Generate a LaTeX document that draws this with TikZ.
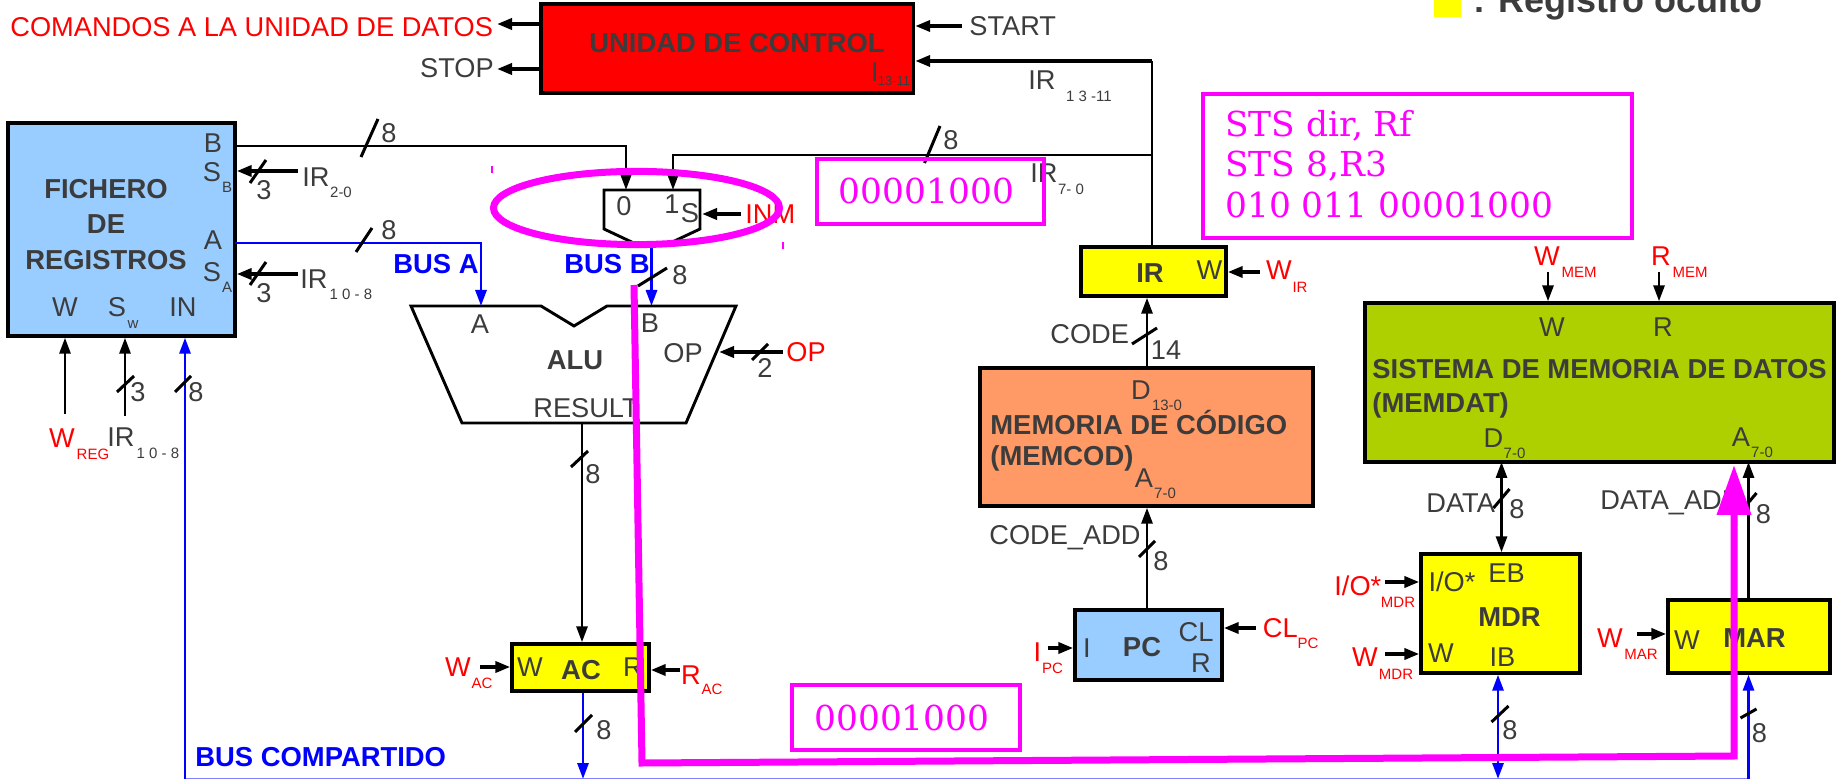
\documentclass[tikz,border=0pt]{standalone}
\usepackage{fontspec}
\setmainfont{Liberation Sans}
\newfontfamily\dvserif{DejaVu Serif}
\usetikzlibrary{arrows.meta,fit}
\definecolor{dk}{HTML}{3C3C3C}
\definecolor{mag}{HTML}{FF00FF}
\definecolor{blu}{HTML}{0000FF}
\definecolor{lblu}{HTML}{99CCFF}
\definecolor{org}{HTML}{FF9966}
\definecolor{oli}{HTML}{AECF00}
\definecolor{busl}{HTML}{8080FF}
\definecolor{yel}{rgb}{1,1,0}
\definecolor{rd}{rgb}{1,0,0}
\tikzset{
  txt/.style={inner sep=0pt,text=dk,font=\fontsize{13.6pt}{15pt}\selectfont},
  red/.style={text=rd},
  subt/.style={font=\fontsize{7.5pt}{8pt}\selectfont},
  bld/.style={font=\fontsize{13.7pt}{15pt}\selectfont\bfseries},
  wst/.style={anchor=west},
  regbox/.style={draw=black,line width=1.7pt,inner sep=0pt},
  wire/.style={draw=black,line width=1.45pt},
  arr/.style={wire,-{Triangle[length=8pt,width=5.5pt]}},
  thk/.style={draw=black,line width=1.8pt,-{Triangle[length=7.5pt,width=5.5pt]}},
  barr/.style={draw=blu,line width=1.45pt,-{Triangle[length=8pt,width=5.5pt]}},
  slashm/.style={draw=black,line width=1.5pt},
  mbox/.style={draw=mag,line width=1.7pt,inner sep=0pt},
  mtxt/.style={inner sep=0pt,text=mag,font=\fontsize{17.2pt}{20pt}\dvserif},
  mline/.style={draw=mag,line width=3.5pt},
}
\newcount\lbc
\newcommand\lb[4][]{\global\advance\lbc by 1 \node[txt,#1,name=lab\the\lbc] at (#2,#3) {#4};}
\newcommand\slashmk[4]{\draw[slashm] (#1,#2) -- (#3,#4);}
\begin{document}
\begin{tikzpicture}[x=0.5pt,y=-0.5pt]
\useasboundingbox (0,0) rectangle (1840,779);
\clip (0,0) rectangle (1840,779);
% boxes
\node[regbox,fill=rd,fit={(541,4)(913.5,93)}] (ctrl) {};
\node[regbox,fill=lblu,fit={(8,123)(235,336)}] (fich) {};
\node[regbox,fill=yel,fit={(512,644)(649,691)}] (ac) {};
\node[regbox,fill=yel,fit={(1081,247)(1226,296)}] (ir) {};
\node[regbox,fill=org,fit={(980,368)(1313,506)}] (mcod) {};
\node[regbox,fill=oli,fit={(1365,303)(1834,462)}] (mdat) {};
\node[regbox,fill=lblu,fit={(1075,610)(1222,680)}] (pc) {};
\node[regbox,fill=yel,fit={(1421,554)(1580,673)}] (mdr) {};
\node[regbox,fill=yel,fit={(1668,600)(1830,673)}] (mar) {};
% mux and ALU outlines
\draw[wire,line join=miter] (604,190) -- (700,190) -- (700,229) -- (666,245) -- (638,245) -- (604,229) -- cycle;
\draw[wire] (411,306) -- (541,306) -- (574,326) -- (607,306) -- (736,306) -- (686,423) -- (462,423) -- cycle;
% named ports
\coordinate (muxA) at (626,190); \coordinate (muxB) at (673,190); \coordinate (muxS) at (702,214); \coordinate (muxO) at (651.5,245);
\coordinate (aluA) at (481,306); \coordinate (aluB) at (651.5,306); \coordinate (aluOp) at (719,352); \coordinate (aluR) at (582,423);
\coordinate (jT) at (1152,61); \coordinate (jM) at (1152,155);
\coordinate (pCom) at (497,24); \coordinate (pStop) at (497,69); \coordinate (pStart) at (962,26);
\coordinate (pSb) at (298,171); \coordinate (pSa) at (298,274); \coordinate (pInm) at (741,214); \coordinate (pOp) at (783,352);
\coordinate (pWreg) at (65,414); \coordinate (pSw) at (125,416); \coordinate (bL) at (185,778.5); \coordinate (bR) at (1748.5,778.5);
\coordinate (bAc) at (583,779); \coordinate (bMdr) at (1498,779); \coordinate (bMar) at (1748.5,779);
\coordinate (pWac) at (480,667); \coordinate (pRac) at (680,670); \coordinate (pWir) at (1260,272);
\coordinate (pWm) at (1548,272); \coordinate (pRm) at (1659,272); \coordinate (pIpc) at (1047.5,648); \coordinate (pClpc) at (1255.5,628);
\coordinate (pIo) at (1385,582); \coordinate (pWmdr) at (1385,654); \coordinate (pWmar) at (1637,634);
\coordinate (aFb) at (235,146); \coordinate (aFa) at (235,243); \coordinate (mdA) at (1748.5,462); \coordinate (mdD) at (1501.5,462);
\coordinate (codeX) at (1147,400); 
% bus line
\draw[busl,line width=1pt] (bL) -- (bR);
% black connectors
\draw[thk] (ctrl.west |- pCom) -- (pCom);
\draw[thk] (ctrl.west |- pStop) -- (pStop);
\draw[thk] (pStart) -- (ctrl.east |- pStart);
\draw[thk] (jT) -- (ctrl.east |- jT);
\draw[wire] (ir.north -| jT) -- (jT);
\draw[arr] (jM) -- (muxB |- jM) -- (muxB);
\draw[arr] (aFb) -- (muxA |- aFb) -- (muxA);
\draw[thk] (pSb) -- (fich.east |- pSb);
\draw[thk] (pSa) -- (fich.east |- pSa);
\draw[thk] (pInm) -- (muxS);
\draw[thk] (pOp) -- (aluOp);
\draw[arr] (pWreg) -- (fich.south -| pWreg);
\draw[arr] (pSw) -- (fich.south -| pSw);
\draw[arr] (aluR) -- (ac.north -| aluR);
\draw[thk] (pWac) -- (ac.west |- pWac);
\draw[thk] (pRac) -- (ac.east |- pRac);
\draw[thk] (pWir) -- (ir.east |- pWir);
\draw[arr] (mcod.north -| codeX) -- (ir.south -| codeX);
\draw[arr] (pWm) -- (mdat.north -| pWm);
\draw[arr] (pRm) -- (mdat.north -| pRm);
\draw[arr] (pc.north -| codeX) -- (mcod.south -| codeX);
\draw[thk] (pIpc) -- (pc.west |- pIpc);
\draw[thk] (pClpc) -- (pc.east |- pClpc);
\draw[wire,{Triangle[length=8pt,width=5.5pt]}-{Triangle[length=8pt,width=5.5pt]}] (mdD) -- (mdr.north -| mdD);
\draw[arr] (mar.north -| mdA) -- (mdA);
\draw[thk] (pIo) -- (mdr.west |- pIo);
\draw[thk] (pWmdr) -- (mdr.west |- pWmdr);
\draw[thk] (pWmar) -- (mar.west |- pWmar);
% blue connectors
\draw[barr] (aFa) -- (aluA |- aFa) -- (aluA);
\draw[barr] (muxO) -- (aluB);
\draw[barr] (bL) -- (fich.south -| bL);
\draw[barr] (ac.south -| bAc) -- (bAc);
\draw[barr,{Triangle[length=8pt,width=5.5pt]}-{Triangle[length=8pt,width=5.5pt]}] (mdr.south -| bMdr) -- (bMdr);
\draw[barr] (bMar) -- (mar.south -| bMar);
% bus slashes
\slashmk{361}{157}{378}{119}
\slashmk{356}{252}{372}{228}
\slashmk{250}{183}{266}{160}
\slashmk{250}{285}{266}{262}
\slashmk{638}{286}{667}{268}
\slashmk{117}{392}{134}{376}
\slashmk{175}{392}{191}{376}
\slashmk{752}{360}{768}{344}
\slashmk{571}{467}{588}{451}
\slashmk{575}{732}{592}{715}
\slashmk{924.5}{163}{940}{126}
\slashmk{1132}{344}{1157}{328}
\slashmk{1139}{557}{1155}{541}
\slashmk{1493.5}{508}{1509.5}{489}
\slashmk{1740.5}{512}{1756.5}{493}
\slashmk{1491.5}{722}{1508.5}{706}
\slashmk{1740.5}{718}{1756.5}{709}
% width numbers
\lb{389}{133}{8} \lb{389}{230}{8} \lb{264}{190}{3} \lb{264}{293}{3} \lb{680}{275}{8}
\lb{138}{392}{3} \lb{196}{392}{8} \lb{765}{368}{2} \lb{593}{474}{8} \lb{604}{730}{8}
\lb{951}{140}{8} \lb{1166}{350}{14} \lb{1161}{561}{8} \lb{1517}{509}{8} \lb{1763.5}{514}{8}
\lb{1510}{730}{8} \lb{1759.5}{733}{8}
% top texts
\lb[red,wst]{10}{27}{COMANDOS A LA UNIDAD DE DATOS}
\lb{457}{68}{STOP}
\lb[bld]{737}{43}{UNIDAD DE CONTROL}
\lb{875}{72}{I}
\lb[subt,font=\fontsize{6.5pt}{8pt}\selectfont]{894}{81}{13-11}
\lb[wst]{969}{26}{START}
\lb{1042}{80}{IR}
\lb[subt]{1089}{96}{1 3 -11}
\lb{1044}{173}{IR}
\lb[subt]{1071}{189}{7- 0}
% fichero
\lb[bld]{106}{189}{FICHERO} \lb[bld]{106}{224}{DE} \lb[bld]{106}{260}{REGISTROS}
\lb{213}{143}{B} \lb{212}{172}{S} \lb[subt]{227}{187}{B}
\lb{213}{240}{A} \lb{212}{272}{S} \lb[subt]{227}{287}{A}
\lb{65}{307}{W} \lb{117}{307}{S} \lb[subt]{133}{325}{w} \lb{183}{307}{IN}
\lb{316}{177}{IR} \lb[subt]{341}{192}{2-0}
\lb{314}{279}{IR} \lb[subt]{351}{294}{1 0 - 8}
\lb[red]{62}{438}{W} \lb[red,subt]{93}{454}{REG}
\lb{121}{437}{IR} \lb[subt]{158}{453}{1 0 - 8}
% mux, alu
\lb{624}{206}{0} \lb{672}{204}{1} \lb{690}{213}{S}
\lb[red,wst]{745}{214}{INM}
\lb[bld,text=blu]{436}{264}{BUS A} \lb[bld,text=blu]{607}{264}{BUS B}
\lb{480}{324}{A} \lb{650}{323}{B} \lb[bld]{575}{360}{ALU} \lb{683}{353}{OP}
\lb[red,wst]{786}{352}{OP}
\lb[wst]{533}{408}{RESULT}
% AC
\lb{530}{667}{W} \lb[bld]{581}{670}{AC} \lb{633}{667}{R}
\lb[red]{458}{667}{W} \lb[red,subt]{482}{683}{AC}
\lb[red]{691}{675}{R} \lb[red,subt]{712}{689}{AC}
\lb[bld,text=blu,wst]{195}{757}{BUS COMPARTIDO}
% IR, code mem
\lb[bld]{1150}{273}{IR} \lb{1209.5}{270}{W}
\lb[red]{1279}{270}{W} \lb[red,subt]{1300}{287}{IR}
\lb[wst]{1050}{334}{CODE}
\lb{1141}{390}{D} \lb[subt]{1167}{405}{13-0}
\lb[bld,wst]{990}{422}{MEMORIA DE CÓDIGO}
\lb[bld,wst]{990}{458}{(MEMCOD)}
\lb{1144}{478}{A} \lb[subt]{1165}{493}{7-0}
\lb[wst]{989}{538}{CODE\_ADD}
% PC
\lb{1087}{648}{I} \lb[bld]{1142}{647}{PC} \lb{1196}{632}{CL} \lb{1201}{663}{R}
\lb[red]{1037.5}{652}{I} \lb[red,subt]{1052.5}{668}{PC}
\lb[red,wst]{1262.5}{628}{CL} \lb[red,subt]{1308}{643}{PC}
% data memory
\lb[red]{1547}{256}{W} \lb[red,subt]{1579}{272}{MEM}
\lb[red]{1661}{256}{R} \lb[red,subt]{1690}{272}{MEM}
\lb{1552}{327}{W} \lb{1663}{327}{R}
\lb[bld,wst]{1372}{369}{SISTEMA DE MEMORIA DE DATOS}
\lb[bld,wst]{1372}{405}{(MEMDAT)}
\lb{1493.5}{438}{D} \lb[subt]{1514.5}{453}{7-0}
\lb{1741}{437}{A} \lb[subt]{1762}{452}{7-0}
\lb[wst]{1426}{503}{DATA}
\lb[wst]{1600}{503}{DATA\_ADD}
% MDR, MAR
\lb{1452}{582}{I/O*} \lb{1506.5}{573}{EB} \lb[bld]{1509.5}{617}{MDR} \lb{1441}{653}{W} \lb{1502.5}{657}{IB}
\lb[red,wst]{1334}{586}{I/O*} \lb[red,subt]{1398}{602}{MDR}
\lb[red]{1365}{657}{W} \lb[red,subt]{1396}{674}{MDR}
\lb{1687}{640}{W} \lb[bld]{1754.5}{638}{MAR}
\lb[red]{1610}{638}{W} \lb[red,subt]{1641}{654}{MAR}
% legend
\fill[yel] (1433.5,-2) rectangle (1460.5,17);
\node[inner sep=0pt,anchor=base west,text=dk,font=\fontsize{18pt}{20pt}\selectfont\bfseries] (legend) at (1473,13) {: Registro oculto};
% magenta annotations
\node[mbox,fit={(817,159)(1044,224)}] (mb1) {};
\node[mtxt] (mb1t) at (926.5,191) {00001000};
\node[mbox,fit={(1203,94)(1632,238)}] (mb2) {};
\node[mtxt,anchor=base west] (mb2a) at (1225,137) {STS dir, Rf};
\node[mtxt,anchor=base west] (mb2b) at (1225,177) {STS 8,R3};
\node[mtxt,anchor=base west] (mb2c) at (1225,218) {010 011 00001000};
\node[mbox,fit={(792,685)(1020,750)}] (mb3) {};
\node[mtxt] (mb3t) at (902,718) {00001000};
\draw[mline] (636.5,208) ellipse [x radius=71.5pt,y radius=18.3pt];
\draw[mag,line width=0.6pt] (492,166) -- (492,173);
\draw[mag,line width=0.6pt] (783,242) -- (783,249);
\draw[mline,line join=miter,-{Triangle[length=25pt,width=16.5pt]}] (634,285) -- (642,763) -- (1734,756) -- (1734,465);
\end{tikzpicture}
\end{document}
